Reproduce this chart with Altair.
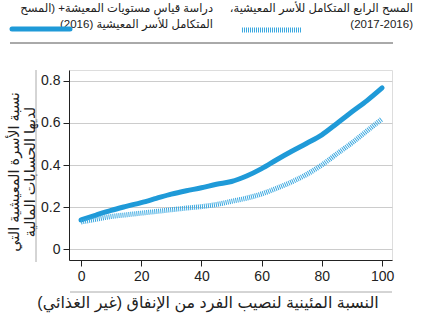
import altair as alt
import pandas as pd

# ---- data ----
percentile = [0, 5, 10, 15, 20, 25, 30, 35, 40, 45, 50, 55, 60, 65, 70, 75, 80, 85, 90, 95, 100]
lsms_2016 = [0.14, 0.163, 0.185, 0.204, 0.222, 0.242, 0.262, 0.278, 0.292, 0.309, 0.322,
             0.348, 0.383, 0.425, 0.465, 0.503, 0.543, 0.597, 0.652, 0.705, 0.765]
ihs4_2016_17 = [0.13, 0.143, 0.156, 0.164, 0.172, 0.180, 0.188, 0.196, 0.203, 0.213, 0.228,
                0.243, 0.263, 0.29, 0.32, 0.356, 0.40, 0.453, 0.505, 0.562, 0.618]

series_names = ["LSMS+", "IHS4"]
legend_lines = {
    "LSMS+": ["دراسة قياس مستويات المعيشة+ (المسح", "المتكامل للأسر المعيشية (2016)"],
    "IHS4": ["المسح الرابع المتكامل للأسر المعيشية،", "(2017-2016)"],
}
y_title_lines = ["نسبة الأسرة المعيشية التي", "لديها الحسابات المالية"]
x_title = "النسبة المئينية لنصيب الفرد من الإنفاق (غير الغذائي)"
y_ticks = [0, 0.2, 0.4, 0.6, 0.8]
x_ticks = [0, 20, 40, 60, 80, 100]

BLUE = "#1f9ad8"
BLUE_LIGHT = "#3aa8e0"
FONT = "Liberation Sans, DejaVu Sans"
RLM = "\u200f"


def rtl(s):
    return RLM + s + RLM


df = pd.DataFrame({
    "p": percentile * 2,
    "v": lsms_2016 + ihs4_2016_17,
    "s": [series_names[0]] * len(percentile) + [series_names[1]] * len(percentile),
})

x = alt.X("p:Q", scale=alt.Scale(domain=[-4, 103.3], nice=False, zero=False),
          axis=alt.Axis(values=x_ticks, title=None, grid=False, domainColor="#222",
                        tickColor="#222", tickSize=6, labelFontSize=14, labelColor="#222",
                        labelFont=FONT, labelPadding=3, domainWidth=1))
y = alt.Y("v:Q", scale=alt.Scale(domain=[-0.05, 0.85], nice=False, zero=False),
          axis=alt.Axis(values=y_ticks, title=None, format="~g", grid=True, gridColor="#cccccc",
                        domainColor="#222", tickColor="#222", tickSize=6, labelFontSize=14,
                        labelColor="#222", labelFont=FONT, labelPadding=3, domainWidth=1))

solid = alt.Chart(df).transform_filter(alt.datum.s == series_names[0]).mark_line(
    color=BLUE, strokeWidth=5, interpolate="monotone", strokeCap="round"
).encode(x=x, y=y)

dashed = alt.Chart(df).transform_filter(alt.datum.s == series_names[1]).mark_line(
    color=BLUE_LIGHT, strokeWidth=5, interpolate="monotone", strokeDash=[1, 1]
).encode(x=x, y=y)

one = pd.DataFrame({"a": [0]})


def txt(text, xv, yv, size=11.5, align="right", angle=None):
    kw = dict(align=align, baseline="middle", fontSize=size, font=FONT, color="#222")
    if angle is not None:
        kw["angle"] = angle
    return alt.Chart(one).mark_text(**kw).encode(
        x=alt.value(xv), y=alt.value(yv), text=alt.value(rtl(text)))


def rule(x1, x2, y1, y2, color="#999", width=1, dash=None, cap="butt"):
    kw = dict(color=color, strokeWidth=width, strokeCap=cap)
    if dash:
        kw["strokeDash"] = dash
    return alt.Chart(one).mark_rule(**kw).encode(
        x=alt.value(x1), x2=alt.value(x2), y=alt.value(y1), y2=alt.value(y2))


layers = [solid, dashed]
# legend
layers += [txt(legend_lines["IHS4"][0], 344, -61), txt(legend_lines["IHS4"][1], 344, -45),
           txt(legend_lines["LSMS+"][0], 144, -61), txt(legend_lines["LSMS+"][1], 144, -45)]
layers += [rule(-57, 1, -41, -41, color=BLUE, width=5, cap="round"),
           rule(173, 233, -40, -40, color=BLUE_LIGHT, width=5, dash=[1, 1])]
layers += [rule(-59, 324, -27, -27, color="#555", width=1)]
# axis titles
layers += [txt(y_title_lines[0], -54, 102, size=14.5, align="center", angle=270),
           txt(y_title_lines[1], -38, 102, size=14.5, align="center", angle=270),
           rule(-33, -33, 0, 192, color="#aaa"),
           rule(1, 323, 222, 222, color="#aaa"),
           txt(x_title, 139, 233, size=16, align="center")]

chart = alt.layer(*layers).properties(
    width=323, height=190, autosize="none",
    padding={"left": 69, "top": 70, "right": 29, "bottom": 65},
).configure_view(stroke=None).configure(background="white")

chart.save("out.html", embed_options={"renderer": "svg", "actions": False})
